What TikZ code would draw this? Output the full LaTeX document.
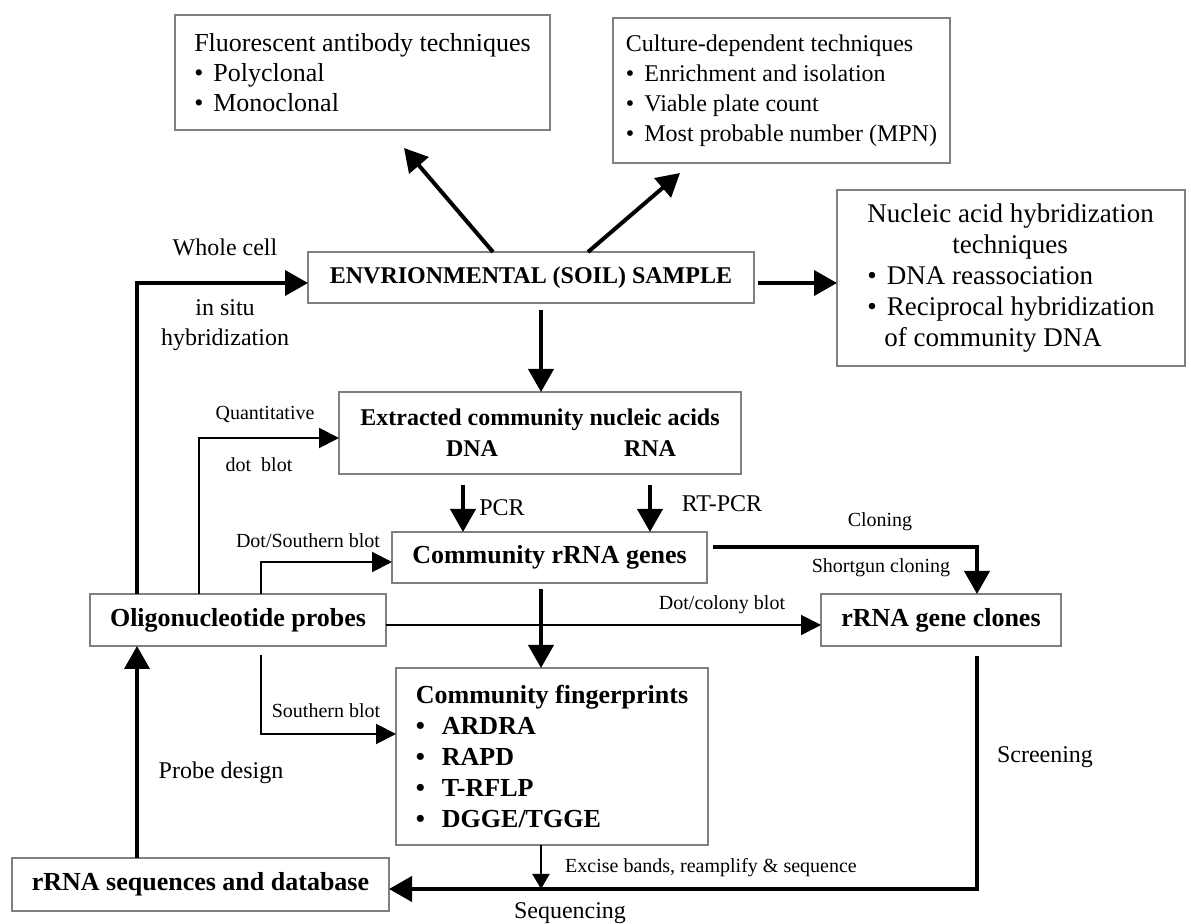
\documentclass[tikz,border=0pt]{standalone}
\usepackage{fontspec}
\setmainfont{Liberation Serif}
\usetikzlibrary{arrows.meta, calc, positioning}

\newcommand{\pkt}{\textbullet\hspace{5pt}}
\newcommand{\bpkt}{\textbullet\hspace{8.5pt}}

\tikzset{
  kasten/.style={draw=gray, line width=1pt, inner sep=0pt, outer sep=0pt,
    font=\fontsize{12}{15}\selectfont},
  fett/.style={kasten, font=\fontsize{13}{15.5}\selectfont\bfseries},
  pfeil/.style={line width=2pt, -{Triangle[length=11.5pt,width=12.5pt]}},
  pfeilduenn/.style={line width=1pt, -{Triangle[length=10pt,width=10pt]}},
  pfeilklein/.style={line width=1pt, -{Triangle[length=7.5pt,width=8.5pt]}},
  marke/.style={inner sep=0pt, font=\fontsize{12}{15}\selectfont, align=center},
  kleinmarke/.style={inner sep=0pt, font=\fontsize{10}{12}\selectfont},
}

\begin{document}
\begin{tikzpicture}[x=0.5pt, y=-0.5pt] % Pixelraster, y nach unten

    \useasboundingbox (0,0) rectangle (1191,924);

    % Kaesten
    \node[kasten, minimum width=187.5pt, minimum height=57.5pt, align=left,
          font=\fontsize{13}{15}\selectfont] (fluor) at (362.5,72.5)
        {Fluorescent antibody techniques\\ \pkt Polyclonal\\ \pkt Monoclonal};
    \node[kasten, minimum width=168.5pt, minimum height=72.5pt, align=left] (kultur) at (781.5,90.5)
        {Culture-dependent techniques\\ \pkt Enrichment and isolation\\ \pkt Viable plate count\\ \pkt Most probable number (MPN)};
    \node[kasten, minimum width=174pt, minimum height=88pt, align=left,
          font=\fontsize{13.5}{15.4}\selectfont] (nuklein) at (1011,278)
        {Nucleic acid hybridization\\ \hspace*{42.5pt}techniques\\ \pkt DNA reassociation\\ \pkt Reciprocal hybridization\\ \hspace*{8.5pt}of community DNA};
    \node[fett, font=\fontsize{12}{15}\selectfont\bfseries, minimum width=223pt, minimum height=25.5pt] (probe) at (531,277.5)
        {ENVRIONMENTAL (SOIL) SAMPLE};
    \node[fett, font=\fontsize{12}{15.5}\selectfont\bfseries, minimum width=201pt, minimum height=41pt, align=center] (extrakt) at (540,433)
        {Extracted community nucleic acids\\ \hspace*{21pt}DNA\hspace{63pt}RNA};
    \node[fett, minimum width=157.5pt, minimum height=25.5pt] (gene) at (549.5,557.5)
        {Community rRNA genes};
    \node[fett, minimum width=148pt, minimum height=26pt] (oligo) at (238,620)
        {Oligonucleotide probes};
    \node[fett, minimum width=120pt, minimum height=26pt] (klone) at (941,620)
        {rRNA gene clones};
    \node[fett, minimum width=156pt, minimum height=88.5pt, align=left] (finger) at (552,756.5)
        {Community fingerprints\\ \bpkt ARDRA\\ \bpkt RAPD\\ \bpkt T-RFLP\\ \bpkt DGGE/TGGE};
    \node[fett, minimum width=188.5pt, minimum height=26.5pt] (daten) at (200.5,884.5)
        {rRNA sequences and database};

    % Hilfspunkte fuer senkrechte Linien
    \coordinate (xw) at (137,0);
    \coordinate (xq) at (199,0);
    \coordinate (xs) at (261,0);
    \coordinate (xp) at (463,0);
    \coordinate (xr) at (650,0);
    \coordinate (mitte) at (541,0);
    \coordinate (xk) at (977,0);
    \coordinate (seqlinie) at (541,889);

    % Pfeile von der Probe
    \draw[pfeil] ([xshift=-19pt]probe.north) -- ([xshift=20.75pt,yshift=-9pt]fluor.south);
    \draw[pfeil] ([xshift=28.5pt]probe.north) -- ([xshift=-50.75pt,yshift=-5pt]kultur.south);
    \draw[pfeil, shorten <=2pt] ($(probe.east)+(0,5.5)$) -- ($(probe.east -| nuklein.west)+(0,5.5)$);
    \draw[pfeil, shorten <=3.5pt] (probe.south -| mitte) -- (extrakt.north -| mitte);

    % PCR und RT-PCR
    \draw[pfeil, shorten <=5.5pt] (extrakt.south -| xp) -- (gene.north -| xp);
    \draw[pfeil, shorten <=5.5pt] (extrakt.south -| xr) -- (gene.north -| xr);
    \draw[pfeil, shorten <=3pt] (gene.south -| mitte) -- (finger.north -| mitte);

    % Sonden
    \draw[pfeil] (oligo.north -| xw) |- ($(probe.west)+(0,5.5)$);
    \draw[pfeilduenn] (oligo.north -| xq) |- ($(extrakt.west)+(0,5)$);
    \draw[pfeilduenn] (oligo.north -| xs) |- ($(gene.west)+(0,4.5)$);
    \draw[pfeilduenn] ($(oligo.east)+(0,5)$) -- ($(klone.west)+(0,5)$);
    \draw[pfeilduenn, shorten <=4.5pt] (oligo.south -| xs) |- ($(finger.west)+(0,-22.5)$);

    % Klonierung und Sequenzierung
    \draw[pfeil, shorten <=3pt] ($(gene.east)+(0,-10.5)$) -| (klone.north -| xk);
    \draw[pfeil, shorten <=5pt] (klone.south -| xk) |- (daten.east |- seqlinie);
    \draw[pfeilklein] (finger.south -| mitte) -- (seqlinie);
    \draw[pfeil] (daten.north -| xw) -- (oligo.south -| xw);

    % Beschriftungen
    \node[marke] (ganzezelle) at (225,247) {Whole cell};
    \node[marke] (insitu) at (225,325) {in situ\\ hybridization};
    \node[kleinmarke] (quant) at (265,415) {Quantitative};
    \node[kleinmarke] (dotblot) at (259,465) {dot\ \ blot};
    \node[marke] (pcr) at (502,508) {PCR};
    \node[marke] (rtpcr) at (722,504) {RT-PCR};
    \node[kleinmarke] (dotsouth) at (308,541) {Dot/Southern blot};
    \node[kleinmarke] (klonieren) at (880,522) {Cloning};
    \node[kleinmarke] (shotgun) at (881,568) {Shortgun cloning};
    \node[kleinmarke] (kolonie) at (722,605) {Dot/colony blot};
    \node[kleinmarke] (southern) at (326,711) {Southern blot};
    \node[marke] (design) at (221,773) {Probe design};
    \node[marke] (screen) at (1045,757) {Screening};
    \node[kleinmarke] (excise) at (711,868) {Excise bands, reamplify \& sequence};
    \node[marke] (sequenz) at (570,913) {Sequencing};

\end{tikzpicture}
\end{document}
